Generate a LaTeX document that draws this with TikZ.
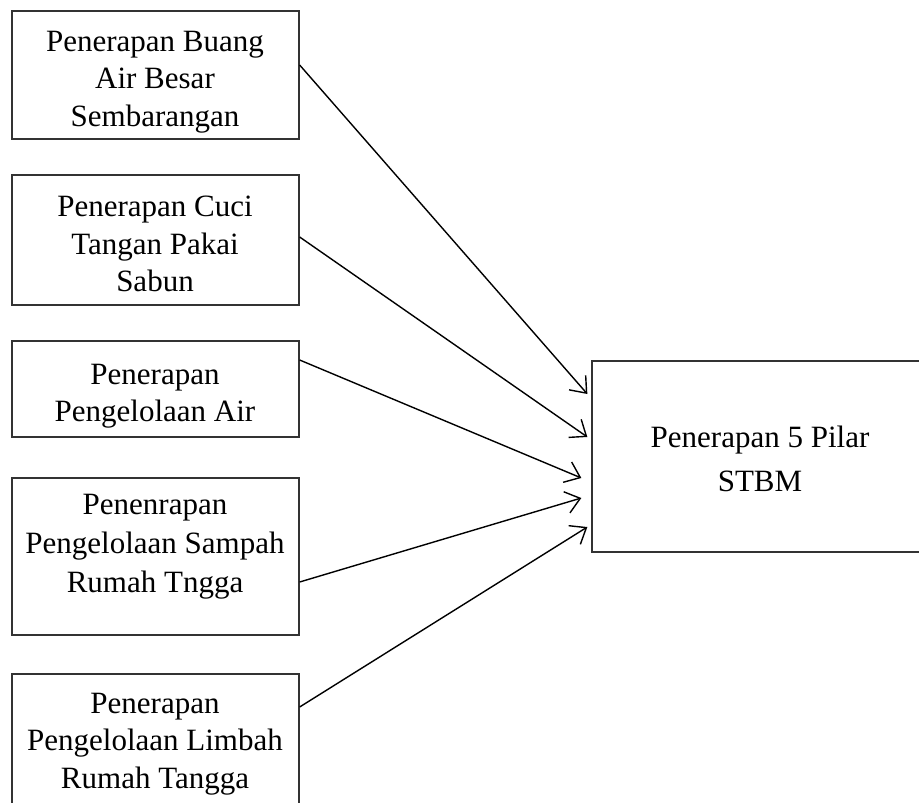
\documentclass[tikz,border=0pt]{standalone}
\usepackage{fontspec}
\setmainfont{Liberation Serif}
\usetikzlibrary{arrows.meta}
\begin{document}
\begin{tikzpicture}[x=1pt,y=-1pt,
  box/.style={draw=black!80,line width=1.3pt,rectangle,inner sep=0pt,minimum width=287pt},
  txt/.style={align=center,inner sep=0pt,font=\fontsize{31}{37.5}\selectfont},
  arr/.style={line width=1.4pt,-{Straight Barb[length=14pt,width=22pt,line width=1.4pt]}}]
\useasboundingbox (0,0) rectangle (919,803);
\clip (0,0) rectangle (919,803);
\node[box,minimum height=128pt] (b1) at (155.5,75) {};
\node[box,minimum height=130pt] (b2) at (155.5,240) {};
\node[box,minimum height=96pt] (b3) at (155.5,389) {};
\node[box,minimum height=157pt] (b4) at (155.5,556.5) {};
\node[box,minimum height=156pt] (b5) at (155.5,752) {};
\node[box,minimum width=343pt,minimum height=191pt] (t) at (763.5,456.5) {};
\node[txt] (l1) at (155,82) {Penerapan Buang\\Air Besar\\Sembarangan};
\node[txt] (l2) at (155,244) {Penerapan Cuci\\Tangan Pakai\\Sabun};
\node[txt] (l3) at (155,396) {Penerapan\\Pengelolaan Air};
\node[txt,font=\fontsize{31}{39}\selectfont] (l4) at (155,547) {Penenrapan\\Pengelolaan Sampah\\Rumah Tngga};
\node[txt] (l5) at (155,744) {Penerapan\\Pengelolaan Limbah\\Rumah Tangga};
\node[txt,font=\fontsize{31}{44}\selectfont] (lt) at (760,459) {Penerapan 5 Pilar\\STBM};
\draw[arr] ([yshift=10pt]b1.east) -- ([xshift=-4pt,yshift=62.5pt]t.west);
\draw[arr] ([yshift=3pt]b2.east) -- ([xshift=-4pt,yshift=19.5pt]t.west);
\draw[arr] ([yshift=29pt]b3.east) -- ([xshift=-10pt,yshift=-21.5pt]t.west);
\draw[arr] ([yshift=-25.5pt]b4.east) -- ([xshift=-10pt,yshift=-41.5pt]t.west);
\draw[arr] ([yshift=45pt]b5.east) -- ([xshift=-4pt,yshift=-70.5pt]t.west);
\end{tikzpicture}
\end{document}
